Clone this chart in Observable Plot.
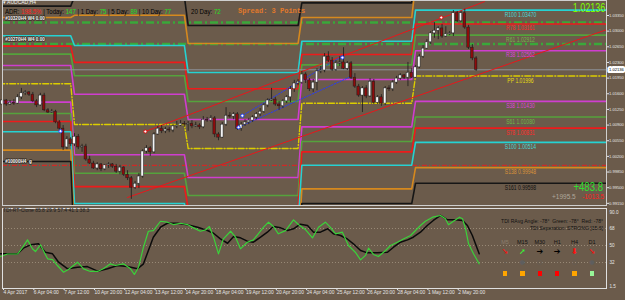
<!DOCTYPE html>
<html><head><meta charset="utf-8">
<script src="https://cdn.jsdelivr.net/npm/d3@7"></script>
<script src="https://cdn.jsdelivr.net/npm/@observablehq/plot@0.6"></script>
<style>
html,body{margin:0;padding:0;background:#6b5b4b;}
#wrap{position:relative;width:625px;height:300px;overflow:hidden;background:#6b5b4b;font-family:"Liberation Sans",Arial,sans-serif;}
#wrap svg{position:absolute;left:0;}
.ov{position:absolute;white-space:nowrap;line-height:1;}
</style></head><body><div id="wrap"></div>
<script>
// ---------- H4 candles (bar index 0 = 4 Apr 2017 20:00) ----------
const openP=[1.0136,1.0145,1.0136,1.0140,1.0138,1.0152,1.0161,1.0163,1.0158,1.0143,1.0134,1.0156,1.0123,1.0118,1.0120,1.0096,1.0082,1.0040,1.0058,
1.0047,1.0064,1.0040,1.0042,1.0013,1.0004,0.9993,1.0002,0.9991,1.0000,1.0002,0.9997,0.9986,0.9995,0.9979,0.9971,0.9950,0.9959,0.9975,1.0031,1.0038,1.0029,1.0069,1.0082,1.0076,1.0080,1.0078,1.0087,1.0089,1.0093,
1.0091,1.0093,1.0087,1.0089,1.0085,1.0102,1.0100,1.0105,1.0069,1.0062,1.0091,1.0111,1.0109,1.0114,1.0082,1.0091,1.0096,1.0100,1.0107,1.0114,1.0120,1.0134,1.0145,1.0147,1.0136,1.0132,1.0143,1.0152,1.0170,1.0183,
1.0185,1.0203,1.0190,1.0170,1.0185,1.0210,1.0212,1.0243,1.0234,1.0214,1.0228,1.0230,1.0216,1.0228,1.0196,1.0176,1.0156,1.0172,1.0154,1.0187,1.0140,1.0152,1.0138,1.0172,1.0170,1.0185,1.0194,1.0201,1.0196,1.0207,
1.0196,1.0219,1.0243,1.0261,1.0275,1.0295,1.0301,1.0306,1.0288,1.0293,1.0295,1.0340,1.0322,1.0340,1.0308,1.0263,1.0239];
const highP=[1.0149,1.0147,1.0145,1.0147,1.0158,1.0172,1.0167,1.0165,1.0163,1.0147,1.0161,1.0161,1.0127,1.0125,1.0123,1.0100,1.0089,1.0064,1.0062,
1.0071,1.0069,1.0047,1.0047,1.0020,1.0009,1.0006,1.0004,1.0002,1.0006,1.0004,1.0002,1.0000,0.9997,0.9988,0.9975,0.9964,0.9982,1.0035,1.0044,1.0042,1.0073,1.0087,1.0089,1.0085,1.0085,1.0091,1.0098,1.0100,1.0098,
1.0098,1.0100,1.0096,1.0093,1.0109,1.0107,1.0111,1.0109,1.0073,1.0096,1.0129,1.0118,1.0118,1.0118,1.0096,1.0102,1.0105,1.0111,1.0118,1.0127,1.0138,1.0149,1.0172,1.0152,1.0143,1.0147,1.0156,1.0176,1.0190,1.0192,
1.0210,1.0207,1.0194,1.0192,1.0216,1.0221,1.0250,1.0254,1.0241,1.0234,1.0243,1.0263,1.0232,1.0232,1.0205,1.0181,1.0176,1.0178,1.0194,1.0192,1.0156,1.0158,1.0176,1.0178,1.0190,1.0199,1.0205,1.0203,1.0230,1.0216,
1.0223,1.0248,1.0268,1.0281,1.0299,1.0319,1.0310,1.0315,1.0310,1.0299,1.0346,1.0344,1.0344,1.0349,1.0313,1.0270,1.0243];
const lowP=[1.0132,1.0132,1.0134,1.0134,1.0136,1.0147,1.0156,1.0154,1.0140,1.0129,1.0132,1.0120,1.0116,1.0116,1.0093,1.0078,1.0033,1.0035,1.0042,
1.0042,1.0035,1.0029,1.0009,1.0002,0.9991,0.9988,0.9986,0.9988,0.9993,0.9993,0.9982,0.9979,0.9975,0.9966,0.9924,0.9946,0.9948,0.9971,1.0026,1.0020,1.0026,1.0067,1.0071,1.0071,1.0073,1.0073,1.0082,1.0087,1.0085,
1.0076,1.0082,1.0085,1.0080,1.0082,1.0096,1.0096,1.0062,1.0055,1.0060,1.0087,1.0105,1.0102,1.0078,1.0076,1.0087,1.0091,1.0096,1.0102,1.0109,1.0116,1.0129,1.0143,1.0132,1.0123,1.0127,1.0138,1.0140,1.0163,1.0178,
1.0181,1.0183,1.0165,1.0163,1.0167,1.0205,1.0207,1.0230,1.0210,1.0210,1.0221,1.0214,1.0212,1.0192,1.0172,1.0152,1.0118,1.0149,1.0152,1.0136,1.0136,1.0132,1.0134,1.0165,1.0165,1.0181,1.0190,1.0192,1.0176,1.0194,
1.0194,1.0216,1.0239,1.0259,1.0270,1.0284,1.0281,1.0284,1.0286,1.0290,1.0288,1.0319,1.0319,1.0304,1.0259,1.0234,1.0210];
const closeP=[1.0145,1.0136,1.0140,1.0138,1.0152,1.0161,1.0163,1.0158,1.0143,1.0134,1.0156,1.0123,1.0118,1.0120,1.0096,1.0082,1.0040,1.0058,1.0047,
1.0064,1.0040,1.0042,1.0013,1.0004,0.9993,1.0002,0.9991,1.0000,1.0002,0.9997,0.9986,0.9995,0.9979,0.9971,0.9950,0.9959,0.9975,1.0031,1.0038,1.0029,1.0069,1.0082,1.0076,1.0080,1.0078,1.0087,1.0089,1.0093,1.0091,
1.0093,1.0087,1.0089,1.0085,1.0102,1.0100,1.0105,1.0069,1.0062,1.0091,1.0111,1.0109,1.0114,1.0082,1.0091,1.0096,1.0100,1.0107,1.0114,1.0120,1.0134,1.0145,1.0147,1.0136,1.0132,1.0143,1.0152,1.0170,1.0183,1.0187,
1.0203,1.0190,1.0170,1.0185,1.0210,1.0212,1.0243,1.0234,1.0214,1.0228,1.0230,1.0216,1.0228,1.0196,1.0176,1.0156,1.0172,1.0154,1.0187,1.0140,1.0152,1.0138,1.0172,1.0170,1.0185,1.0194,1.0201,1.0196,1.0207,1.0196,
1.0219,1.0243,1.0261,1.0275,1.0295,1.0301,1.0306,1.0288,1.0293,1.0295,1.0340,1.0322,1.0340,1.0308,1.0263,1.0239,1.02136];

// ---------- weekly Fibonacci pivot levels ----------
const levelNames=["R161","R138","R100","R78","R61","R38","PP","S38","S61","S78","S100","S138","S161"];
const pivW1=[1.03559,1.03306,1.02896,1.02666,1.02486,1.02233,1.01823,1.01413,1.01160,1.00980,1.00750,1.00340,1.00087];
const pivW2=[1.03770,1.03354,1.02679,1.02301,1.02004,1.01588,1.00913,1.00238,0.99822,0.99525,0.99147,0.98472,0.98056];
const pivW3=[1.03125,1.02724,1.02075,1.01711,1.01426,1.01025,1.00376,0.99727,0.99326,0.99041,0.98677,0.98028,0.97627];
const pivW4=[1.03632,1.03304,1.02775,1.02478,1.02246,1.01918,1.01389,1.00860,1.00532,1.00300,1.00003,0.99474,0.99146];
const pivW5=[1.04381,1.04033,1.03470,1.03161,1.02912,1.02562,1.01996,1.01430,1.01080,1.00831,1.00514,0.99948,0.99598];
const weekStart=[-1,19,49,79,109];
const weekEnd=[18,48,78,108,165];

// other price lines
const greenDashLevels=[1.03193,1.02713];
const greenDashTags=["#10320H4 W4 0.00","#10270H4 W4 0.00"];
const parityLevel=[1.00000];
const parityTag=["#10000H4  g"];
const bidPrice=1.02136;
const redTrendUpper=[[37.7,1.00756],[127.2,1.03660]];
const redTrendLower=[[33.0,0.99281],[161,1.03080]];
const blueTrendA=[[63.3,1.01110],[90.0,1.02460]];
const blueTrendB=[[62.3,1.00850],[92.6,1.02010]];
const blueMarks=[[15.3,1.00763],[63.3,1.01110],[62.3,1.00850],[89.7,1.02410]];
const redMarks=[[37.7,1.00756],[115.8,1.03305]];
const priceTicks=[1.0335,1.0300,1.0265,1.0230,1.0195,1.0160,1.0125,1.0090,1.0055,1.0020,0.9985,0.9950,0.9915];

// ---------- TDI ----------
const tdiGreen=[[-0.5,38.3],[1.3,41],[4,41],[5.3,48],[6.6,56],[7.9,46.5],[8.7,43.6],[10,50.7],[11.9,35.9],[13.2,35],[14.5,28.8],[16.1,21.7],[17.4,24.6],[19.8,32.3],[21.4,25.3],[23.2,22.5],[25.1,22.5],[26.6,25.3],[28.5,30.6],[29.8,28.8],[31.9,30.6],[33.8,25.3],[34.8,19.3],[35.9,27],[37.2,48.2],[38.5,65.1],[39.8,65.8],[41.7,75.7],[43.5,74.7],[45.1,72.2],[47,73.6],[48.8,72.2],[50.4,68.7],[52.2,65.1],[53.6,66.5],[54.6,70.1],[55.7,58.8],[57,41.2],[58.3,57.1],[60.2,65.1],[61.5,58.8],[62.8,46.5],[64.6,53.5],[66.2,56],[67.5,62.4],[68.9,69.4],[70.2,74.7],[71.5,70.1],[72.8,62.4],[74.7,65.8],[76.8,77.2],[78.1,72.2],[79.9,67],[81.8,58.1],[83.4,69.4],[85.2,74.7],[86.5,69.4],[87.9,62.4],[89.7,64.1],[91.3,50],[93.1,42.9],[94.5,34.8],[95.8,39.5],[96.6,47.2],[97.9,40.5],[99.2,38.3],[101.1,44.7],[102.4,50],[104.2,53.5],[105.8,56.9],[107.7,60.6],[109,65.9],[110.3,71.2],[111.6,75.7],[113.5,80],[115.6,81.8],[116.9,78.3],[117.7,71.9],[119,75.7],[120.6,80],[121.4,78.3],[122.2,67.7],[123,51.8],[124.3,41.2],[125.8,30.6]];
const tdiBlack=[[-0.5,41.2],[4,41.2],[5.5,47.2],[7.4,50.7],[9.5,51.8],[11.3,42.9],[13.2,41.2],[14.8,32.3],[17.2,25.3],[19.8,27],[22.4,27.7],[25.1,22.8],[27.7,25.3],[30.3,28.8],[33,27.7],[35.6,25.3],[37.2,30.6],[39.8,58.8],[41.7,69.4],[43.5,73.6],[46.2,73.6],[48.8,71.9],[51.5,69.4],[54.1,65.9],[55.7,63],[57.5,57.1],[59.4,52.4],[61,59.5],[62.8,58.1],[64.6,54.6],[66.2,53.5],[68.1,58.8],[69.9,64.1],[71.5,70.1],[73.4,68.7],[75.2,65.9],[76.8,67.7],[78.6,72.6],[80.5,71.2],[82.1,64.1],[83.9,64.1],[85.8,67.7],[87.3,62.4],[89.2,60.6],[91,56.9],[92.6,51.8],[94.5,44.7],[96.3,42.2],[98.9,42.2],[101.6,42.9],[103.2,48.2],[105,53.5],[106.9,56],[108.4,58.8],[110.3,64.1],[112.1,71.2],[113.7,76.5],[115.6,81.8],[117.4,77.2],[119.5,77.2],[121.4,76.5],[122.7,71.2],[124,60.6],[125.8,41.2]];
const tdiTicks=[68,50,32];
const tdiRangeLabels=["90.0","1.5"];
const xTickIdx=[0,8,16,24,32,40,48,56,64,72,80,88,96,104,112,120];
const xTickLabels=["4 Apr 2017","6 Apr 04:00","7 Apr 12:00","10 Apr 20:00","12 Apr 04:00","13 Apr 12:00","14 Apr 20:00","18 Apr 04:00","19 Apr 12:00","20 Apr 20:00","24 Apr 04:00","25 Apr 12:00","26 Apr 20:00","28 Apr 04:00","1 May 12:00","2 May 20:00"];

// MTF panel
const mtfNames=["M5","M15","M30","H1","H4","D1"];
const mtfArrows=["➘","➚","➔","➔","⬇","➘"];
const mtfArrowColors=["#ff1010","#33ff33","#000","#000","#ff1010","#ff1010"];
const mtfDots=["–","●","○","·","○","●"];
const mtfSquares=["#ffa500","#ffa500","#ff0000","#ff0000","#ffa500","#98f598"];

// ---------- build ----------
const XMAX=159.4;
const candles=closeP.map((c,i)=>({i,o:openP[i],h:highP[i],l:lowP[i],c}));
const pivots=[pivW1,pivW2,pivW3,pivW4,pivW5];
const levelRows=[];
levelNames.forEach((name,k)=>pivots.forEach((lv,w)=>{
  levelRows.push({name,i:weekStart[w],p:lv[k]},{name,i:weekEnd[w],p:lv[k]});
}));
const levelColor={R161:"#161616",S161:"#161616",R138:"#d6891e",S138:"#d6891e",R100:"#25d2d2",S100:"#25d2d2",R78:"#ee1b1b",S78:"#ee1b1b",R61:"#55a23c",S61:"#55a23c",R38:"#cf3ecf",S38:"#cf3ecf",PP:"#dccd00"};
const labelColor={R100:"#48d6d6",R78:"#ff2a2a",R61:"#6cbb46",R38:"#dd44dd",PP:"#e8dc10",S38:"#dd44dd",S61:"#6cbb46",S78:"#ff2a2a",S100:"#48d6d6",S138:"#d9923a",S161:"#111"};
const yMin=0.99102,yMax=1.036854;
const w5Labels=levelNames.map((name,k)=>({name,p:pivW5[k]})).filter(d=>d.p>yMin&&d.p<yMax);
const font="'Liberation Sans',Arial,sans-serif";
const xy=(d)=>d[0], yy=(d)=>d[1];

const pricePlot=Plot.plot({
  width:625,height:206,marginTop:0,marginBottom:1,marginLeft:2,marginRight:19,
  x:{domain:[0,XMAX],axis:null},
  y:{domain:[yMin,yMax],axis:null},
  color:{type:"identity"},
  style:{background:"transparent",color:"#e6e6e6",fontFamily:font,overflow:"visible"},
  marks:[
    Plot.ruleY(greenDashLevels,{stroke:"#3aa83a",strokeWidth:2.6,strokeDasharray:"8,3,2,3"}),
    Plot.ruleY(parityLevel,{stroke:"#e52020",strokeWidth:1,strokeDasharray:"5,2,1,2"}),
    Plot.line(levelRows.filter(d=>d.name!=="PP"),{x:"i",y:"p",z:"name",stroke:d=>levelColor[d.name],strokeWidth:1.6,clip:true}),
    Plot.line(levelRows.filter(d=>d.name==="PP"),{x:"i",y:"p",stroke:levelColor.PP,strokeWidth:1.4,strokeDasharray:"6,2,1,2",clip:true}),
    Plot.ruleY([bidPrice],{stroke:"#8d939c",strokeWidth:1}),
    Plot.line(redTrendUpper,{x:xy,y:yy,stroke:"#e8161b",strokeWidth:1,clip:true}),
    Plot.line(redTrendLower,{x:xy,y:yy,stroke:"#e8161b",strokeWidth:1,clip:true}),
    Plot.line(blueTrendA,{x:xy,y:yy,stroke:"#2a3cf0",strokeWidth:1,strokeDasharray:"1.5,1.5"}),
    Plot.line(blueTrendB,{x:xy,y:yy,stroke:"#2a3cf0",strokeWidth:1,strokeDasharray:"1.5,1.5"}),
    Plot.ruleX(candles,{x:"i",y1:"l",y2:"h",stroke:"#1c1c1c",strokeWidth:0.8}),
    Plot.rect(candles,{x1:d=>d.i-0.34,x2:d=>d.i+0.34,y1:"o",y2:"c",fill:d=>d.c>=d.o?"#f4f4f4":"#8e0c0c",stroke:"#1c1c1c",strokeWidth:0.5}),
    Plot.dot(blueMarks,{x:xy,y:yy,r:1.6,fill:"#fff",stroke:"#2040ff",strokeWidth:1}),
    Plot.dot(redMarks,{x:xy,y:yy,r:1.6,fill:"#fff",stroke:"#e01010",strokeWidth:1}),
    Plot.text(greenDashLevels,{x:d=>0.7,y:d=>d,dy:-4.5,text:(d,i)=>greenDashTags[i],textAnchor:"start",fill:"#f4f4f4",stroke:"#3a3028",strokeWidth:1.5,fontSize:4.6,fontWeight:"bold"}),
    Plot.text(parityLevel,{x:d=>0.7,y:d=>d,dy:-4,text:(d,i)=>parityTag[i],textAnchor:"start",fill:"#f4f4f4",stroke:"#3a3028",strokeWidth:1.5,fontSize:4.6,fontWeight:"bold"}),
    Plot.text(w5Labels,{x:d=>136.7,y:"p",dy:4.5,text:d=>`${d.name} ${d.p.toFixed(5)}`,fill:d=>labelColor[d.name],fontSize:6.3}),
    Plot.axisY(priceTicks,{anchor:"right",tickSize:2,tickPadding:0.5,tickFormat:d=>d.toFixed(5),fontSize:4.1}),
    Plot.text([bidPrice],{x:d=>XMAX,y:d=>d,dx:2.5,textAnchor:"start",text:d=>d.toFixed(5),fill:"#000",stroke:"#fff",strokeWidth:4,fontSize:4.1}),
    Plot.frame({stroke:"#cfcfcf"})
  ]
});

const tdiPlot=Plot.plot({
  width:625,height:94,marginTop:2,marginBottom:12,marginLeft:2,marginRight:19,
  x:{domain:[0,XMAX],axis:null},
  y:{domain:[4.46,89.2],axis:null},
  style:{background:"transparent",color:"#e6e6e6",fontFamily:font,overflow:"visible"},
  marks:[
    Plot.ruleY(tdiTicks,{stroke:"#a39682",strokeDasharray:"1,2",strokeWidth:0.8}),
    Plot.line(tdiBlack,{x:xy,y:yy,stroke:"#0b0b0b",strokeWidth:1.5}),
    Plot.line(tdiGreen,{x:xy,y:yy,stroke:"#3ad23a",strokeWidth:1.2}),
    Plot.axisY(tdiTicks,{anchor:"right",tickSize:0,tickPadding:3,fontSize:4.6}),
    Plot.text([tdiRangeLabels[0]],{frameAnchor:"top-right",dx:3,dy:2,textAnchor:"start",fontSize:4.6,fill:"#e6e6e6"}),
    Plot.text([tdiRangeLabels[1]],{frameAnchor:"bottom-right",dx:3,dy:-1,textAnchor:"start",fontSize:4.6,fill:"#e6e6e6"}),
    Plot.axisX(xTickIdx,{anchor:"bottom",tickSize:2,tickPadding:0,textAnchor:"start",dx:1,fontSize:4.9,tickFormat:d=>xTickLabels[xTickIdx.indexOf(d)]}),
    Plot.frame({stroke:"#e0e0e0"})
  ]
});

const wrap=document.getElementById("wrap");
pricePlot.style.top="0px"; wrap.appendChild(pricePlot);
tdiPlot.style.top="206px"; wrap.appendChild(tdiPlot);
// MT4-like condensed glyphs for the in-chart level labels only
function condense(svg,f){svg.querySelectorAll("text").forEach(t=>{
  if(t.closest('g[aria-label*="axis"]'))return;
  if(!/^[RSP]/.test(t.textContent))return;
  const L=t.getComputedTextLength();if(L>0){t.setAttribute("textLength",(L*f).toFixed(2));t.setAttribute("lengthAdjust","spacingAndGlyphs");}});}
condense(pricePlot,0.8);

function ov(html,css){const d=document.createElement("div");d.className="ov";d.innerHTML=html;d.setAttribute("style",css);wrap.appendChild(d);return d;}
const G="#22e022";
ov("▾ AUDCAD,H4","left:3px;top:0px;font-size:5px;color:#f0f0f0;");
ov(`ADR: <span style="color:#ff2020">198.5%</span> | Today: <span style="color:${G}">147</span> | 1 Day: <span style="color:${G}">75</span> | 5 Day: <span style="color:${G}">89</span> | 10 Day: <span style="color:${G}">77</span>`,
   "left:5px;top:8px;font-size:7px;color:#000;transform:scaleX(.86);transform-origin:left top;");
ov(`20 Day: <span style="color:${G}">72</span>`,"left:191px;top:8px;font-size:7px;color:#000;transform:scaleX(.88);transform-origin:left top;");
ov("Spread: 3 Points","left:238px;top:8px;font-size:7px;color:#e2792a;font-family:'Liberation Mono','DejaVu Sans Mono',monospace;font-weight:bold;");
ov("1.02136","right:20px;top:2px;font-size:12.5px;color:#7cfc00;transform:scaleX(.72);transform-origin:right top;");
ov("+483.8","right:22px;top:181px;font-size:12px;color:#2ee02e;transform:scaleX(.8);transform-origin:right top;");
ov("+1995.5","left:552px;top:194px;font-size:6.5px;color:#b0a89c;");
ov("-1013.5","left:582px;top:194px;font-size:6.5px;color:#ff2020;");
ov("TDI-RT-Clone 85.8 29.9 57.4 41.1 38.3","left:3px;top:208px;font-size:5px;color:#1a1a1a;");
ov("TDI RAvg Angle: -78°&nbsp; Green: -78°&nbsp; Red: -78°","right:22px;top:218px;font-size:6px;color:#111;transform:scaleX(.85);transform-origin:right top;");
ov("TDI Seperation: STRONG [15.6]","right:22px;top:225px;font-size:6px;color:#111;transform:scaleX(.85);transform-origin:right top;");
mtfNames.forEach((n,k)=>{
  const cx=505+k*17.4;
  ov(n,`left:${cx-8}px;width:16px;text-align:center;top:240px;font-size:5.5px;color:${k===0?"#8a7d6e":"#111"};`);
  ov(mtfArrows[k],`left:${cx-8}px;width:16px;text-align:center;top:248px;font-size:8px;font-weight:bold;color:${mtfArrowColors[k]};font-family:'DejaVu Sans',sans-serif;`);
  ov(mtfDots[k],`left:${cx-8}px;width:16px;text-align:center;top:259px;font-size:6px;color:#5e5e5e;font-family:'DejaVu Sans',sans-serif;`);
  ov("",`left:${cx-2.3}px;top:271px;width:4.6px;height:4.6px;background:${mtfSquares[k]};`);
});
</script></body></html>
